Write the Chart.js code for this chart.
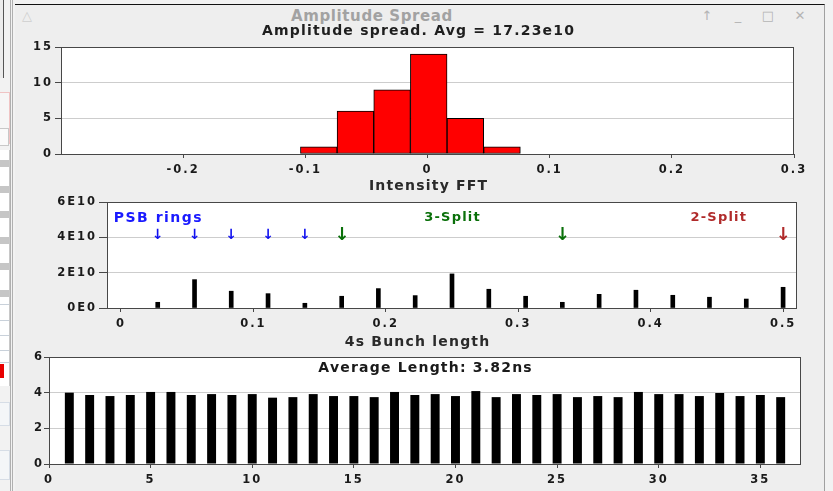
<!DOCTYPE html>
<html>
<head>
<meta charset="utf-8">
<title>Amplitude Spread</title>
<script src="https://cdn.jsdelivr.net/npm/chart.js@4.4.1/dist/chart.umd.min.js"></script>
<style>
  html, body { margin: 0; padding: 0; }
  body { width: 833px; height: 491px; position: relative; overflow: hidden; background: #f2f2f2; font-family: "DejaVu Sans", sans-serif; }
  .abs { position: absolute; }
  /* strip of the window behind */
  .stripe { position: absolute; left: 0; width: 9px; height: 7px; background: #c6c6c6; }
  .row { position: absolute; left: 0; width: 9px; height: 0; border-top: 1px solid #c9d1da; }
  #win { position: absolute; left: 15px; top: 4px; width: 809px; height: 487px; background: #eeeeee; border-top: 1px solid #111; border-right: 1px solid #a0a0a0; }
  .wt { position: absolute; top: 2px; color: #a2a2a2; font-size: 15px; font-weight: bold; line-height: 18px; letter-spacing: 0.6px; }
  .ic { position: absolute; top: 3px; color: #b4b4b4; font-size: 13px; line-height: 16px; width: 16px; text-align: center; }
  canvas { position: absolute; }
</style>
</head>
<body>

<!-- neighbour window at the left edge -->
<div class="abs" style="left:0;top:0;width:3px;height:78px;border-right:1px solid #555;background:#ececec"></div>
<div class="abs" style="left:-1px;top:92px;width:9px;height:50px;border:1px solid #f0c4c4;background:#f6f6f6"></div>
<div class="abs" style="left:-1px;top:128px;width:8px;height:16px;border:1px solid #c8c8c8;background:#fafafa"></div>
<div class="abs" style="left:0;top:150px;width:9px;height:236px;background:#fff;border-right:1px solid #c8c8c8"></div>
<div class="stripe" style="top:160px"></div>
<div class="stripe" style="top:186px"></div>
<div class="stripe" style="top:211px"></div>
<div class="stripe" style="top:237px"></div>
<div class="stripe" style="top:263px"></div>
<div class="stripe" style="top:290px"></div>
<div class="row" style="top:304px"></div>
<div class="row" style="top:320px"></div>
<div class="row" style="top:335px"></div>
<div class="row" style="top:350px"></div>
<div class="row" style="top:362px"></div>
<div class="abs" style="left:0;top:364px;width:4px;height:14px;background:#e80000"></div>
<div class="abs" style="left:-1px;top:402px;width:9px;height:22px;border:1px solid #d6dde6;background:#f4f6f8"></div>
<div class="abs" style="left:-1px;top:450px;width:9px;height:28px;border:1px solid #d6dde6;background:#f4f6f8"></div>
<div class="abs" style="left:10px;top:0;width:0;height:491px;border-left:1px solid #b0b0b0"></div>
<div class="abs" style="left:12px;top:0;width:0;height:491px;border-left:1px solid #b0b0b0"></div>

<div id="win">
  <div class="ic" style="left:4px;color:#cfcfcf">△</div>
  <div class="wt" style="left:237px;width:240px;text-align:center">Amplitude Spread</div>
  <div class="ic" style="left:684px">↑</div>
  <div class="ic" style="left:715px">_</div>
  <div class="ic" style="left:745px">□</div>
  <div class="ic" style="left:777px">✕</div>
</div>

<canvas id="spread" width="804" height="155" style="left:16px;top:22px"></canvas>
<canvas id="fft" width="804" height="153" style="left:16px;top:177px"></canvas>
<canvas id="bunch" width="804" height="161" style="left:16px;top:330px"></canvas>

<script>
// amplitude spread histogram (bin centres, 0.03 wide)
const spreadBins = [-0.089, -0.059, -0.029, 0.001, 0.031, 0.061];
const spreadCounts = [1, 6, 9, 14, 5, 1];

// intensity FFT lines
const fftFreq = [0.0278, 0.0556, 0.0833, 0.1111, 0.1389, 0.1667, 0.1944, 0.2222, 0.25,
                 0.2778, 0.3056, 0.3333, 0.3611, 0.3889, 0.4167, 0.4444, 0.4722, 0.5];
const fftAmp = [0.35e10, 1.74e10, 1.03e10, 0.88e10, 0.29e10, 0.72e10, 1.19e10, 0.76e10, 2.09e10,
                1.15e10, 0.72e10, 0.35e10, 0.84e10, 1.09e10, 0.78e10, 0.66e10, 0.55e10, 1.27e10];
const fftTickLabels = ['0E0', '2E10', '4E10', '6E10'];
const psbArrows = [0.0278, 0.0556, 0.0833, 0.1111, 0.1389];
const split3Arrows = [0.1667, 0.3333];
const split2Arrows = [0.5];
const arrowLevel = 4.45e10;

// bunch lengths (ns)
const bunchIndex = [1, 2, 3, 4, 5, 6, 7, 8, 9, 10, 11, 12, 13, 14, 15, 16, 17, 18,
                    19, 20, 21, 22, 23, 24, 25, 26, 27, 28, 29, 30, 31, 32, 33, 34, 35, 36];
const bunchLength = [4.0, 3.87, 3.81, 3.87, 4.04, 4.04, 3.87, 3.92, 3.87, 3.92, 3.72, 3.75,
                     3.92, 3.81, 3.81, 3.75, 4.04, 3.87, 3.92, 3.81, 4.09, 3.75, 3.92, 3.87,
                     3.92, 3.75, 3.81, 3.75, 4.04, 3.92, 3.92, 3.81, 3.98, 3.81, 3.87, 3.75];

Chart.defaults.font.family = '"DejaVu Sans", sans-serif';
Chart.defaults.font.size = 11.5;
Chart.defaults.font.weight = 'bold';
Chart.defaults.color = '#1a1a1a';
Chart.defaults.animation = false;
Chart.defaults.plugins.legend.display = false;
Chart.defaults.plugins.tooltip.enabled = false;

const FRAME = '#474747';
const GRID = '#cdcdcd';

// white plot background + dark frame, java style
const plotFrame = {
    id: 'plotFrame',
    beforeDraw(chart) {
        const a = chart.chartArea, ctx = chart.ctx;
        ctx.letterSpacing = '2px';
        ctx.save();
        ctx.fillStyle = '#fff';
        ctx.fillRect(a.left, a.top, a.right - a.left, a.bottom - a.top);
        ctx.restore();
    },
    afterDatasetsDraw(chart) {
        const a = chart.chartArea, ctx = chart.ctx;
        ctx.save();
        ctx.strokeStyle = FRAME;
        ctx.lineWidth = 1;
        ctx.strokeRect(a.left + 0.5, a.top + 0.5, a.right - a.left - 1, a.bottom - a.top);
        ctx.restore();
    }
};

// free text: pixel positions, or data positions when dataX/dataY are given
const panelText = {
    id: 'panelText',
    afterDraw(chart, args, opts) {
        const ctx = chart.ctx, a = chart.chartArea;
        (opts.items || []).forEach(it => {
            let x = it.x, y = it.y;
            if (it.dataX !== undefined) x = chart.scales.x.getPixelForValue(it.dataX);
            if (it.dataY !== undefined) y = chart.scales.y.getPixelForValue(it.dataY);
            if (it.inArea) { x = (a.left + a.right) / 2; y = a.top + it.y; }
            ctx.save();
            ctx.font = it.font;
            ctx.letterSpacing = (it.ls || 0) + 'px';
            ctx.fillStyle = it.color || '#1a1a1a';
            ctx.textAlign = it.align || 'center';
            ctx.textBaseline = 'middle';
            ctx.fillText(it.text, x + (it.ls || 0) / 2, y);
            ctx.restore();
        });
    }
};
Chart.register(plotFrame, panelText);

function xAxis(min, max, step, h, extra) {
    return Object.assign({
        type: 'linear', min: min, max: max, offset: false,
        border: { display: false },
        grid: { drawOnChartArea: false, offset: false, tickLength: 4, tickColor: FRAME },
        ticks: { stepSize: step, includeBounds: false, padding: 5, maxRotation: 0, autoSkip: false },
        afterFit: s => { s.height = h; }
    }, extra || {});
}
function yAxis(max, step, w, tl, pad, extra) {
    return Object.assign({
        min: 0, max: max,
        border: { display: false },
        grid: { color: GRID, tickColor: FRAME, tickLength: tl },
        ticks: { stepSize: step, includeBounds: false, padding: pad },
        afterFit: s => { s.width = w; }
    }, extra || {});
}

const TITLE = 'bold 14px "DejaVu Sans"';

new Chart(document.getElementById('spread'), {
    type: 'bar',
    data: {
        datasets: [{
            data: spreadBins.map((b, i) => ({ x: b, y: spreadCounts[i] })),
            backgroundColor: '#ff0000',
            borderColor: '#000',
            borderWidth: 1,
            borderSkipped: false,
            barPercentage: 1,
            categoryPercentage: 1
        }]
    },
    options: {
        responsive: false,
        layout: { padding: { left: 5, right: 26, top: 25, bottom: 0 } },
        scales: {
            x: xAxis(-0.3, 0.3, 0.1, 23, {
                afterBuildTicks: s => { s.ticks = s.ticks.filter(t => t.value > -0.29); }
            }),
            y: yAxis(15, 5, 40, 6, 2)
        },
        plugins: {
            panelText: { items: [
                { text: 'Amplitude spread. Avg = 17.23e10', x: 402, y: 9, font: TITLE, ls: 1.2, color: '#1e1e1e' }
            ] }
        }
    }
});

const ARROW_S = 'bold 14px "DejaVu Sans"';
const ARROW_L = 'bold 18px "DejaVu Sans"';
const arrowItems = [];
psbArrows.forEach(v => arrowItems.push({ text: '↓', dataX: v, dataY: arrowLevel, font: ARROW_S, color: '#1010f0' }));
split3Arrows.forEach(v => arrowItems.push({ text: '↓', dataX: v, dataY: arrowLevel, font: ARROW_L, color: '#0a700a' }));
split2Arrows.forEach(v => arrowItems.push({ text: '↓', dataX: v, dataY: arrowLevel, font: ARROW_L, color: '#b02a2a' }));

new Chart(document.getElementById('fft'), {
    type: 'bar',
    data: {
        datasets: [{
            data: fftFreq.map((f, i) => ({ x: f, y: fftAmp[i] })),
            backgroundColor: '#000',
            barThickness: 4
        }]
    },
    options: {
        responsive: false,
        layout: { padding: { left: 5, right: 23, top: 25, bottom: 0 } },
        scales: {
            x: xAxis(-0.0105, 0.5105, 0.1, 22),
            y: yAxis(6.5e10, 2e10, 86, 8, 2, {
                ticks: { stepSize: 2e10, includeBounds: false, padding: 2, callback: (v, i) => fftTickLabels[i] }
            })
        },
        plugins: {
            panelText: { items: [
                { text: 'Intensity FFT', x: 412, y: 9, font: TITLE, ls: 1.2, color: '#2a2a2a' },
                { text: 'PSB rings', dataX: 0.0278, dataY: 5.52e10, font: 'bold 14px "DejaVu Sans"', ls: 1.5, color: '#1a1aff' },
                { text: '3-Split', dataX: 0.25, dataY: 5.52e10, font: 'bold 13px "DejaVu Sans"', ls: 1.2, color: '#0a700a' },
                { text: '2-Split', dataX: 0.451, dataY: 5.52e10, font: 'bold 13px "DejaVu Sans"', ls: 1.2, color: '#b02a2a' }
            ].concat(arrowItems) }
        }
    }
});

new Chart(document.getElementById('bunch'), {
    type: 'bar',
    data: {
        datasets: [{
            data: bunchIndex.map((n, i) => ({ x: n, y: bunchLength[i] })),
            backgroundColor: '#000',
            barPercentage: 0.44,
            categoryPercentage: 1
        }]
    },
    options: {
        responsive: false,
        layout: { padding: { left: 5, right: 19, top: 27, bottom: 0 } },
        scales: {
            x: xAxis(0, 37, 5, 27),
            y: yAxis(6, 2, 28, 5, 0)
        },
        plugins: {
            panelText: { items: [
                { text: '4s Bunch length', x: 401, y: 12, font: TITLE, ls: 1.2, color: '#2a2a2a' },
                { text: 'Average Length: 3.82ns', inArea: true, y: 11, font: TITLE, ls: 1.2, color: '#1a1a1a' }
            ] }
        }
    }
});
</script>
</body>
</html>
